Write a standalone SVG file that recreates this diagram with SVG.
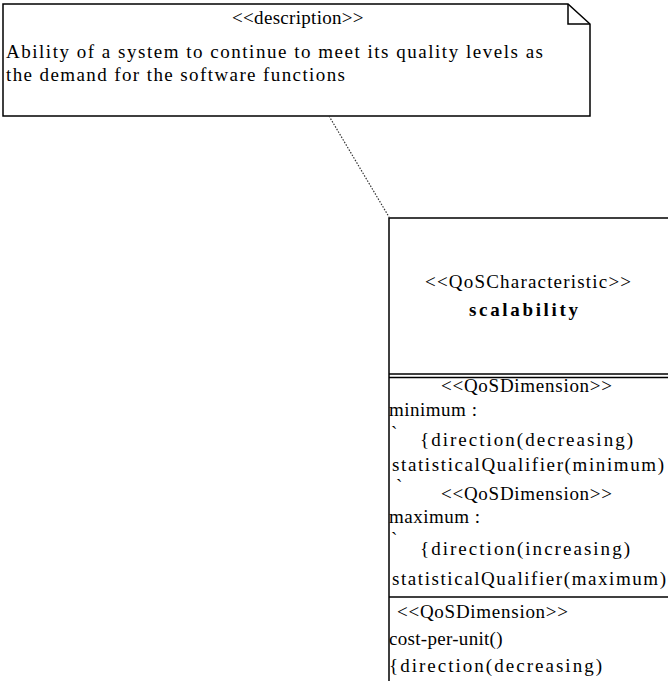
<svg xmlns="http://www.w3.org/2000/svg" width="668" height="681" viewBox="0 0 668 681">
<style>
.t{font-family:"Liberation Serif","Times New Roman",serif;font-size:19px;fill:#000}
.b{font-weight:bold}
.ln{fill:none;stroke:#000;stroke-width:1.5}
.dot{fill:none;stroke:#333;stroke-width:1.2;stroke-dasharray:1.5 1.5}
</style>
<rect width="668" height="681" fill="#fff"/>
<g id="note">
<path class="ln" d="M3,4 H568 L590,24 V116 H3 Z" fill="#fff"/>
<path class="ln" d="M568,4 V24 H590"/>
<text class="t" x="298" y="24" text-anchor="middle" letter-spacing="0.3">&lt;&lt;description&gt;&gt;</text>
<text class="t" x="6" y="58" textLength="537" lengthAdjust="spacing">Ability of a system to continue to meet its quality levels as</text>
<text class="t" x="6" y="81" textLength="339" lengthAdjust="spacing">the demand for the software functions</text>
</g>
<g id="connectors">
<line class="dot" x1="329" y1="116" x2="389" y2="217"/>
</g>
<g id="scalability">
<path class="ln" d="M700,218 H389 V690"/>
<line class="ln" x1="389" y1="374" x2="668" y2="374"/>
<line class="ln" x1="389" y1="377.5" x2="668" y2="377.5"/>
<line class="ln" x1="389" y1="597" x2="668" y2="597"/>
<text class="t" x="425" y="288" textLength="206" lengthAdjust="spacing">&lt;&lt;QoSCharacteristic&gt;&gt;</text>
<text class="t b" x="469" y="316" textLength="109" lengthAdjust="spacing">scalability</text>
<text class="t" x="441" y="392" textLength="171" lengthAdjust="spacing">&lt;&lt;QoSDimension&gt;&gt;</text>
<text class="t" x="389" y="416" letter-spacing="0.5">minimum :</text>
<text class="t" x="391" y="439">`</text>
<text class="t" x="420" y="446" textLength="213" lengthAdjust="spacing">{direction(decreasing)</text>
<text class="t" x="392" y="471" textLength="272" lengthAdjust="spacing">statisticalQualifier(minimum)</text>
<text class="t" x="396" y="492">`</text>
<text class="t" x="441" y="500" textLength="171" lengthAdjust="spacing">&lt;&lt;QoSDimension&gt;&gt;</text>
<text class="t" x="389" y="523" letter-spacing="0.5">maximum :</text>
<text class="t" x="391" y="545">`</text>
<text class="t" x="420" y="555" textLength="210" lengthAdjust="spacing">{direction(increasing)</text>
<text class="t" x="392" y="585" textLength="274" lengthAdjust="spacing">statisticalQualifier(maximum)</text>
<text class="t" x="397" y="618" textLength="171" lengthAdjust="spacing">&lt;&lt;QoSDimension&gt;&gt;</text>
<text class="t" x="389" y="645" letter-spacing="0.3">cost-per-unit()</text>
<text class="t" x="389" y="672" textLength="213" lengthAdjust="spacing">{direction(decreasing)</text>
</g>
</svg>
